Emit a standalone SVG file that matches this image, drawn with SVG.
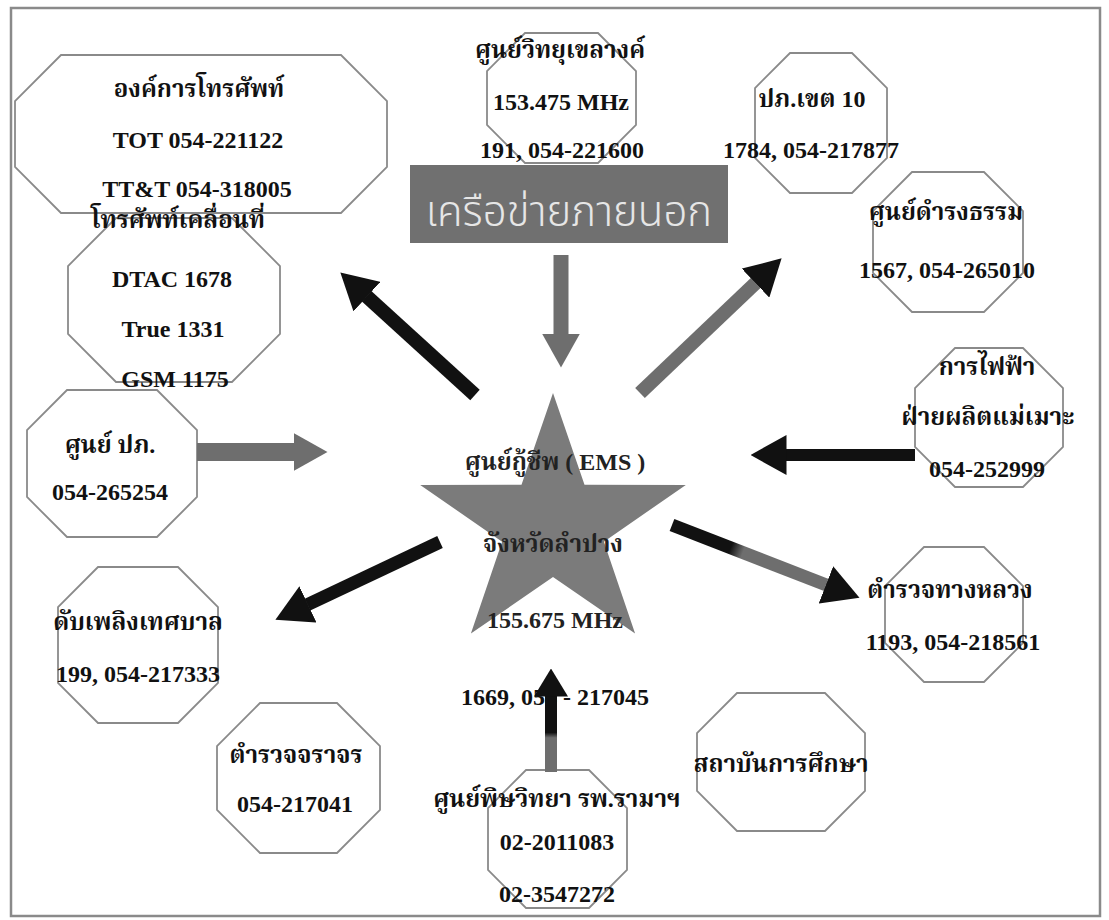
<svg xmlns="http://www.w3.org/2000/svg" width="1109" height="920" viewBox="0 0 1109 920">
  <style>
    .oct { fill: #ffffff; stroke: #8a8a8a; stroke-width: 1.8; }
    .lbl { font-family: "Liberation Serif", "Noto Serif Thai", "Noto Sans Thai", serif; font-weight: bold; font-size: 24px; fill: #111111; text-anchor: middle; }
    .star-lbl { fill: #222222; }
    .banner-txt { font-family: "Noto Sans Thai", "Noto Sans", "DejaVu Sans", sans-serif; font-weight: 300; font-size: 42px; fill: #e6e6e6; text-anchor: middle; }
    .shaft-k { stroke: #111111; fill: none; }
    .shaft-g { stroke: #6e6e6e; fill: none; }
  </style>
  <defs>
    <marker id="head-k" viewBox="0 -20 36 40" markerWidth="36" markerHeight="40" refX="0.5" refY="0" orient="auto" markerUnits="userSpaceOnUse">
      <path d="M0,-20 L36,0 L0,20 Z" fill="#111111"/>
    </marker>
    <marker id="head-g" viewBox="0 -19 34 38" markerWidth="34" markerHeight="38" refX="0.5" refY="0" orient="auto" markerUnits="userSpaceOnUse">
      <path d="M0,-19 L34,0 L0,19 Z" fill="#6e6e6e"/>
    </marker>
    <marker id="head-k-sm" viewBox="0 -17 28 34" markerWidth="28" markerHeight="34" refX="0.5" refY="0" orient="auto" markerUnits="userSpaceOnUse">
      <path d="M0,-17 L28,0 L0,17 Z" fill="#111111"/>
    </marker>
    <linearGradient id="grad-se" gradientUnits="userSpaceOnUse" x1="672" y1="525" x2="826" y2="585">
      <stop offset="0" stop-color="#111111"/>
      <stop offset="0.38" stop-color="#111111"/>
      <stop offset="0.46" stop-color="#6e6e6e"/>
      <stop offset="1" stop-color="#6e6e6e"/>
    </linearGradient>
    <linearGradient id="grad-up" gradientUnits="userSpaceOnUse" x1="0" y1="772" x2="0" y2="696">
      <stop offset="0" stop-color="#6e6e6e"/>
      <stop offset="0.45" stop-color="#6e6e6e"/>
      <stop offset="0.52" stop-color="#111111"/>
      <stop offset="1" stop-color="#111111"/>
    </linearGradient>
  </defs>

  <!-- page background and frame -->
  <rect x="0" y="0" width="1109" height="920" fill="#ffffff"/>
  <rect x="11" y="8" width="1089" height="908" fill="none" stroke="#8a8a8a" stroke-width="2.5"/>

  <!-- central hub -->
  <g id="node-ems">
    <polygon points="553,393 584.5,484.7 685.8,484.9 603.9,541.8 635.1,633.6 553,577 470.9,633.6 502.1,541.8 420.2,484.9 521.5,484.7" fill="#7b7b7b"/>
    <text class="lbl star-lbl" x="555" y="470">ศูนย์กู้ชีพ ( EMS )</text>
    <text class="lbl star-lbl" x="553" y="552">จังหวัดลำปาง</text>
    <text class="lbl star-lbl" x="555" y="628">155.675 MHz</text>
  </g>

  <g id="node-banner">
    <rect x="410" y="165" width="318" height="78" fill="#707070"/>
    <text class="banner-txt" x="569" y="226">เครือข่ายภายนอก</text>
  </g>

  <g id="node-tot">
    <polygon class="oct" points="61,55 341,55 387,101 387,167 341,213 61,213 15,167 15,101"/>
    <text class="lbl" x="199" y="97">องค์การโทรศัพท์</text>
    <text class="lbl" x="198" y="148">TOT 054-221122</text>
    <text class="lbl" x="197" y="197">TT&amp;T 054-318005</text>
  </g>

  <g id="node-mobile">
    <polygon class="oct" points="116,218 232,218 280,266 280,334 232,382 116,382 68,334 68,266"/>
    <text class="lbl" x="178" y="228">โทรศัพท์เคลื่อนที่</text>
    <text class="lbl" x="172" y="287">DTAC 1678</text>
    <text class="lbl" x="173" y="337">True 1331</text>
    <text class="lbl" x="175" y="387">GSM 1175</text>
  </g>

  <g id="node-dpm-center">
    <polygon class="oct" points="67,390 157,390 197,430 197,497 157,537 67,537 27,497 27,430"/>
    <text class="lbl" x="110" y="453">ศูนย์ ปภ.</text>
    <text class="lbl" x="110" y="500">054-265254</text>
  </g>

  <g id="node-khelang">
    <polygon class="oct" points="525,33 598,33 636,71 636,125 598,163 525,163 487,125 487,71"/>
    <text class="lbl" x="560" y="58">ศูนย์วิทยุเขลางค์</text>
    <text class="lbl" x="561" y="110">153.475 MHz</text>
    <text class="lbl" x="562" y="158">191, 054-221600</text>
  </g>

  <g id="node-dpm-region">
    <polygon class="oct" points="790,53 852,53 887,88 887,158 852,193 790,193 755,158 755,88"/>
    <text class="lbl" x="812" y="107">ปภ.เขต 10</text>
    <text class="lbl" x="811" y="158">1784, 054-217877</text>
  </g>

  <g id="node-damrongdham">
    <polygon class="oct" points="912,172 984,172 1023,211 1023,273 984,312 912,312 873,273 873,211"/>
    <text class="lbl" x="946" y="220">ศูนย์ดำรงธรรม</text>
    <text class="lbl" x="947" y="278">1567, 054-265010</text>
  </g>

  <g id="node-egat">
    <polygon class="oct" points="955,348 1023,348 1063,388 1063,447 1023,487 955,487 915,447 915,388"/>
    <text class="lbl" x="987" y="375">การไฟฟ้า</text>
    <text class="lbl" x="988" y="425">ฝ่ายผลิตแม่เมาะ</text>
    <text class="lbl" x="987" y="477">054-252999</text>
  </g>

  <g id="node-highway-police">
    <polygon class="oct" points="924,547 984,547 1023,586 1023,643 984,682 924,682 885,643 885,586"/>
    <text class="lbl" x="950" y="598">ตำรวจทางหลวง</text>
    <text class="lbl" x="953" y="650">1193, 054-218561</text>
  </g>

  <g id="node-education">
    <polygon class="oct" points="737,693 825,693 865,733 865,791 825,831 737,831 697,791 697,733"/>
    <text class="lbl" x="781" y="772">สถาบันการศึกษา</text>
  </g>

  <g id="node-poison-center">
    <polygon class="oct" points="526,770 589,770 627,808 627,870 589,908 526,908 488,870 488,808"/>
    <text class="lbl" x="557" y="807">ศูนย์พิษวิทยา รพ.รามาฯ</text>
    <text class="lbl" x="557" y="850">02-2011083</text>
    <text class="lbl" x="557" y="902">02-3547272</text>
  </g>

  <g id="node-1669">
    <text class="lbl" x="555" y="705">1669, 054 - 217045</text>
  </g>

  <g id="node-traffic-police">
    <polygon class="oct" points="260,703 337,703 380,746 380,810 337,853 260,853 217,810 217,746"/>
    <text class="lbl" x="296" y="763">ตำรวจจราจร</text>
    <text class="lbl" x="295" y="812">054-217041</text>
  </g>

  <g id="node-fire">
    <polygon class="oct" points="98,567 178,567 218,607 218,683 178,723 98,723 58,683 58,607"/>
    <text class="lbl" x="138" y="630">ดับเพลิงเทศบาล</text>
    <text class="lbl" x="138" y="682">199, 054-217333</text>
  </g>

  <!-- connectors -->
  <g id="connectors">
    <line class="shaft-k" x1="475" y1="395" x2="366.6" y2="296.3" stroke-width="14" marker-end="url(#head-k)"/>
    <line class="shaft-g" x1="561" y1="255" x2="561" y2="334" stroke-width="15" marker-end="url(#head-g)"/>
    <line class="shaft-g" x1="640" y1="393" x2="755.9" y2="282.8" stroke-width="14" marker-end="url(#head-k)"/>
    <line class="shaft-g" x1="197" y1="452" x2="294" y2="452" stroke-width="18" marker-end="url(#head-g)"/>
    <line class="shaft-k" x1="915" y1="455" x2="786" y2="455" stroke-width="12" marker-end="url(#head-k)"/>
    <line x1="672" y1="525" x2="826.4" y2="585" stroke="url(#grad-se)" stroke-width="13" marker-end="url(#head-k)"/>
    <line class="shaft-k" x1="440" y1="542" x2="307.5" y2="604.6" stroke-width="13" marker-end="url(#head-k)"/>
    <line x1="551" y1="772" x2="551" y2="696" stroke="url(#grad-up)" stroke-width="12" marker-end="url(#head-k-sm)"/>
  </g>
</svg>
